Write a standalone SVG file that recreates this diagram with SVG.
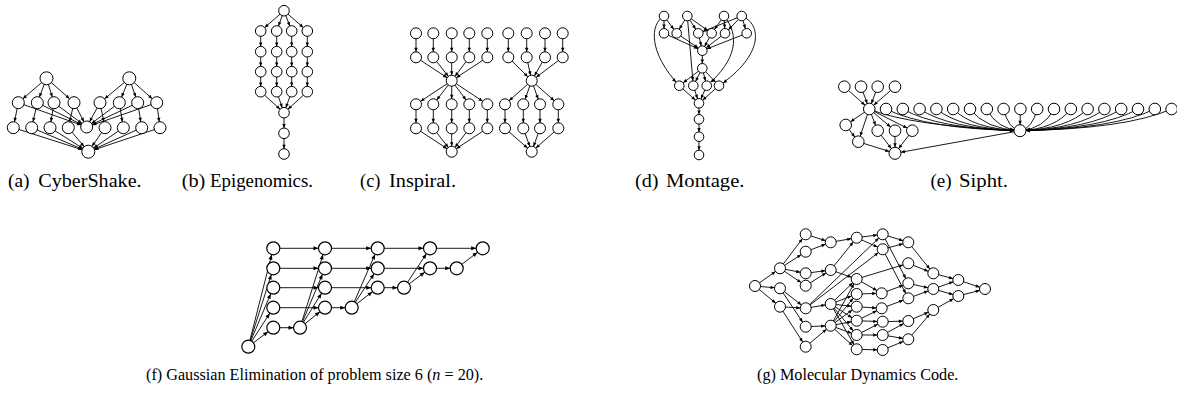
<svg xmlns="http://www.w3.org/2000/svg" width="1177" height="397" viewBox="0 0 1177 397">
<style>
.e line,.e path{stroke:#000;stroke-width:0.9;fill:none}
.nodes circle{fill:#fff;stroke:#000;stroke-width:1}
.ge circle{stroke-width:1.2}
.cap{font-family:"Liberation Serif",serif;font-size:18px;fill:#000}
.cap2{font-family:"Liberation Serif",serif;font-size:16.2px;fill:#000}
</style>
<defs>
<marker id="m48" markerUnits="userSpaceOnUse" markerWidth="5" markerHeight="4" refX="8.8" refY="1.7" orient="auto" overflow="visible"><path d="M0,0 L4,1.7 L0,3.4 z" fill="#000"/></marker>
<marker id="m52" markerUnits="userSpaceOnUse" markerWidth="5" markerHeight="4" refX="9.3" refY="1.7" orient="auto" overflow="visible"><path d="M0,0 L4,1.7 L0,3.4 z" fill="#000"/></marker>
<marker id="m55" markerUnits="userSpaceOnUse" markerWidth="5" markerHeight="4" refX="9.5" refY="1.7" orient="auto" overflow="visible"><path d="M0,0 L4,1.7 L0,3.4 z" fill="#000"/></marker>
<marker id="m58" markerUnits="userSpaceOnUse" markerWidth="5" markerHeight="4" refX="9.8" refY="1.7" orient="auto" overflow="visible"><path d="M0,0 L4,1.7 L0,3.4 z" fill="#000"/></marker>
<marker id="m6" markerUnits="userSpaceOnUse" markerWidth="5" markerHeight="4" refX="10" refY="1.7" orient="auto" overflow="visible"><path d="M0,0 L4,1.7 L0,3.4 z" fill="#000"/></marker>
<marker id="m65" markerUnits="userSpaceOnUse" markerWidth="5" markerHeight="4" refX="10.5" refY="1.7" orient="auto" overflow="visible"><path d="M0,0 L4,1.7 L0,3.4 z" fill="#000"/></marker>
<marker id="mg" markerUnits="userSpaceOnUse" markerWidth="6" markerHeight="4" refX="11.5" refY="2" orient="auto" overflow="visible"><path d="M0,0 L5,2 L0,4 z" fill="#000"/></marker>
</defs>
<rect width="1177" height="397" fill="#fff"/>

<g id="connectors" class="e">
<!-- (a) CyberShake -->
<g marker-end="url(#m6)">
<line x1="46.5" y1="78.3" x2="18.3" y2="102.7"/><line x1="46.5" y1="78.3" x2="37.3" y2="102.7"/><line x1="46.5" y1="78.3" x2="54" y2="102.7"/><line x1="46.5" y1="78.3" x2="74" y2="102.7"/>
<line x1="129.3" y1="78.3" x2="100" y2="102.7"/><line x1="129.3" y1="78.3" x2="119.3" y2="102.7"/><line x1="129.3" y1="78.3" x2="137.7" y2="102.7"/><line x1="129.3" y1="78.3" x2="156.7" y2="102.7"/>
<line x1="18.3" y1="102.7" x2="13.3" y2="127.7"/><line x1="37.3" y1="102.7" x2="31.7" y2="127.7"/><line x1="54" y1="102.7" x2="50" y2="127.7"/><line x1="74" y1="102.7" x2="68.3" y2="127.7"/>
<line x1="100" y1="102.7" x2="105" y2="127.7"/><line x1="119.3" y1="102.7" x2="123.3" y2="127.7"/><line x1="137.7" y1="102.7" x2="141.7" y2="127.7"/><line x1="156.7" y1="102.7" x2="160" y2="127.7"/>
<line x1="18.3" y1="102.7" x2="86.7" y2="127"/><line x1="37.3" y1="102.7" x2="86.7" y2="127"/><line x1="54" y1="102.7" x2="86.7" y2="127"/><line x1="74" y1="102.7" x2="86.7" y2="127"/>
<line x1="100" y1="102.7" x2="86.7" y2="127"/><line x1="119.3" y1="102.7" x2="86.7" y2="127"/><line x1="137.7" y1="102.7" x2="86.7" y2="127"/><line x1="156.7" y1="102.7" x2="86.7" y2="127"/>
</g>
<g marker-end="url(#m65)">
<line x1="13.3" y1="127.7" x2="88.3" y2="151.7"/><line x1="31.7" y1="127.7" x2="88.3" y2="151.7"/><line x1="50" y1="127.7" x2="88.3" y2="151.7"/><line x1="68.3" y1="127.7" x2="88.3" y2="151.7"/>
<line x1="105" y1="127.7" x2="88.3" y2="151.7"/><line x1="123.3" y1="127.7" x2="88.3" y2="151.7"/><line x1="141.7" y1="127.7" x2="88.3" y2="151.7"/><line x1="160" y1="127.7" x2="88.3" y2="151.7"/>
</g>
<!-- (b) Epigenomics -->
<g marker-end="url(#m52)">
<line x1="284" y1="10.7" x2="260.7" y2="31"/><line x1="284" y1="10.7" x2="276.7" y2="31"/><line x1="284" y1="10.7" x2="291.7" y2="31"/><line x1="284" y1="10.7" x2="307.3" y2="31"/>
<line x1="260.7" y1="31" x2="260.7" y2="51.7"/><line x1="260.7" y1="51.7" x2="260.7" y2="71.7"/><line x1="260.7" y1="71.7" x2="260.7" y2="91.7"/>
<line x1="276.7" y1="31" x2="276.7" y2="51.7"/><line x1="276.7" y1="51.7" x2="276.7" y2="71.7"/><line x1="276.7" y1="71.7" x2="276.7" y2="91.7"/>
<line x1="291.7" y1="31" x2="291.7" y2="51.7"/><line x1="291.7" y1="51.7" x2="291.7" y2="71.7"/><line x1="291.7" y1="71.7" x2="291.7" y2="91.7"/>
<line x1="307.3" y1="31" x2="307.3" y2="51.7"/><line x1="307.3" y1="51.7" x2="307.3" y2="71.7"/><line x1="307.3" y1="71.7" x2="307.3" y2="91.7"/>
<line x1="260.7" y1="91.7" x2="284" y2="112.7"/><line x1="276.7" y1="91.7" x2="284" y2="112.7"/><line x1="291.7" y1="91.7" x2="284" y2="112.7"/><line x1="307.3" y1="91.7" x2="284" y2="112.7"/>
<line x1="284" y1="112.7" x2="284" y2="133.3"/><line x1="284" y1="133.3" x2="284" y2="154"/>
</g>
<!-- (c) Inspiral -->
<g marker-end="url(#m55)">
<line x1="416" y1="33.3" x2="416" y2="57.3"/><line x1="433.3" y1="33.3" x2="433.3" y2="57.3"/><line x1="451.7" y1="33.3" x2="451.7" y2="57.3"/><line x1="469.3" y1="33.3" x2="469.3" y2="57.3"/><line x1="487.3" y1="33.3" x2="487.3" y2="57.3"/>
<line x1="508.3" y1="33.3" x2="508.3" y2="57.3"/><line x1="526.7" y1="33.3" x2="526.7" y2="57.3"/><line x1="545" y1="33.3" x2="545" y2="57.3"/><line x1="562.7" y1="33.3" x2="562.7" y2="57.3"/>
<line x1="416" y1="57.3" x2="451.7" y2="80.7"/><line x1="433.3" y1="57.3" x2="451.7" y2="80.7"/><line x1="451.7" y1="57.3" x2="451.7" y2="80.7"/><line x1="469.3" y1="57.3" x2="451.7" y2="80.7"/><line x1="487.3" y1="57.3" x2="451.7" y2="80.7"/>
<line x1="508.3" y1="57.3" x2="531.7" y2="80.7"/><line x1="526.7" y1="57.3" x2="531.7" y2="80.7"/><line x1="545" y1="57.3" x2="531.7" y2="80.7"/><line x1="562.7" y1="57.3" x2="531.7" y2="80.7"/>
<line x1="451.7" y1="80.7" x2="416" y2="104.3"/><line x1="451.7" y1="80.7" x2="433.3" y2="104.3"/><line x1="451.7" y1="80.7" x2="451.7" y2="104.3"/><line x1="451.7" y1="80.7" x2="469.3" y2="104.3"/><line x1="451.7" y1="80.7" x2="487.3" y2="104.3"/>
<line x1="531.7" y1="80.7" x2="505" y2="104.3"/><line x1="531.7" y1="80.7" x2="523.3" y2="104.3"/><line x1="531.7" y1="80.7" x2="540" y2="104.3"/><line x1="531.7" y1="80.7" x2="558.3" y2="104.3"/>
<line x1="416" y1="104.3" x2="416" y2="128.3"/><line x1="433.3" y1="104.3" x2="433.3" y2="128.3"/><line x1="451.7" y1="104.3" x2="451.7" y2="128.3"/><line x1="469.3" y1="104.3" x2="469.3" y2="128.3"/><line x1="487.3" y1="104.3" x2="487.3" y2="128.3"/>
<line x1="505" y1="104.3" x2="505" y2="128.3"/><line x1="523.3" y1="104.3" x2="523.3" y2="128.3"/><line x1="540" y1="104.3" x2="540" y2="128.3"/><line x1="558.3" y1="104.3" x2="558.3" y2="128.3"/>
<line x1="416" y1="128.3" x2="451.7" y2="151.7"/><line x1="433.3" y1="128.3" x2="451.7" y2="151.7"/><line x1="451.7" y1="128.3" x2="451.7" y2="151.7"/><line x1="469.3" y1="128.3" x2="451.7" y2="151.7"/><line x1="487.3" y1="128.3" x2="451.7" y2="151.7"/>
<line x1="505" y1="128.3" x2="531.7" y2="151.7"/><line x1="523.3" y1="128.3" x2="531.7" y2="151.7"/><line x1="540" y1="128.3" x2="531.7" y2="151.7"/><line x1="558.3" y1="128.3" x2="531.7" y2="151.7"/>
</g>
<!-- (d) Montage -->
<g marker-end="url(#m48)">
<line x1="664" y1="16" x2="664" y2="33.3"/><line x1="664" y1="16" x2="676.7" y2="33.3"/>
<line x1="687.3" y1="16" x2="676.7" y2="33.3"/><line x1="687.3" y1="16" x2="698.3" y2="33.3"/><line x1="687.3" y1="16" x2="711.7" y2="33.3"/>
<line x1="724" y1="16" x2="711.7" y2="33.3"/><line x1="724" y1="16" x2="725" y2="33.3"/>
<line x1="741.7" y1="16" x2="698.3" y2="33.3"/><line x1="741.7" y1="16" x2="725" y2="33.3"/><line x1="741.7" y1="16" x2="746.7" y2="33.3"/>
<line x1="664" y1="33.3" x2="702.3" y2="50.7"/><line x1="676.7" y1="33.3" x2="702.3" y2="50.7"/><line x1="698.3" y1="33.3" x2="702.3" y2="50.7"/><line x1="711.7" y1="33.3" x2="702.3" y2="50.7"/><line x1="725" y1="33.3" x2="702.3" y2="50.7"/><line x1="746.7" y1="33.3" x2="702.3" y2="50.7"/>
<line x1="702.3" y1="50.7" x2="702.3" y2="68.3"/>
<line x1="702.3" y1="68.3" x2="679.3" y2="85.7"/><line x1="702.3" y1="68.3" x2="693.3" y2="85.7"/><line x1="702.3" y1="68.3" x2="706.7" y2="85.7"/><line x1="702.3" y1="68.3" x2="719" y2="85.7"/>
<path d="M664,16 C650,24 648,52 679.3,85.7"/>
<line x1="687.3" y1="16" x2="693.3" y2="85.7"/>
<path d="M724,16 C740,35 737,60 706.7,85.7"/>
<path d="M741.7,16 C762,24 764,55 719,85.7"/>
<line x1="679.3" y1="85.7" x2="699" y2="103.3"/><line x1="693.3" y1="85.7" x2="699" y2="103.3"/><line x1="706.7" y1="85.7" x2="699" y2="103.3"/><line x1="719" y1="85.7" x2="699" y2="103.3"/>
<line x1="699" y1="103.3" x2="699" y2="119.3"/><line x1="699" y1="119.3" x2="699" y2="136.7"/><line x1="699" y1="136.7" x2="699" y2="155"/>
</g>
<!-- (e) Sipht -->
<g marker-end="url(#m58)">
<line x1="844.3" y1="86.7" x2="869.3" y2="109"/><line x1="861" y1="86.7" x2="869.3" y2="109"/><line x1="877.7" y1="86.7" x2="869.3" y2="109"/><line x1="895" y1="86.7" x2="869.3" y2="109"/>
<line x1="869.3" y1="109" x2="845.7" y2="125"/><line x1="869.3" y1="109" x2="858.3" y2="141.7"/><line x1="869.3" y1="109" x2="877.7" y2="130.7"/><line x1="869.3" y1="109" x2="895" y2="130.7"/><line x1="869.3" y1="109" x2="912.3" y2="130.7"/>
<line x1="845.7" y1="125" x2="858.3" y2="141.7"/>
</g>
<g marker-end="url(#m6)">
<line x1="858.3" y1="141.7" x2="895" y2="153.3"/><line x1="877.7" y1="130.7" x2="895" y2="153.3"/><line x1="895" y1="130.7" x2="895" y2="153.3"/><line x1="912.3" y1="130.7" x2="895" y2="153.3"/>
<line x1="1020" y1="130.7" x2="895" y2="153.3"/>
<path d="M869.3,109 Q910,126 1020,130.7"/>
<path d="M886,109 Q926.2,129 1020,130.7"/>
<path d="M902.8,109 Q938,129 1020,130.7"/>
<path d="M919.6,109 Q949.7,129 1020,130.7"/>
<path d="M936.4,109 Q961.5,129 1020,130.7"/>
<path d="M953.2,109 Q973.2,129 1020,130.7"/>
<path d="M970,109 Q985,129 1020,130.7"/>
<path d="M986.8,109 Q996.8,129 1020,130.7"/>
<path d="M1003.6,109 Q1008.5,129 1020,130.7"/>
<path d="M1020.4,109 L1020,130.7"/>
<path d="M1037.2,109 Q1032,129 1020,130.7"/>
<path d="M1054,109 Q1043.8,129 1020,130.7"/>
<path d="M1070.8,109 Q1055.6,129 1020,130.7"/>
<path d="M1087.6,109 Q1067.3,129 1020,130.7"/>
<path d="M1104.4,109 Q1079.1,129 1020,130.7"/>
<path d="M1121.2,109 Q1090.8,129 1020,130.7"/>
<path d="M1138,109 Q1102.6,129 1020,130.7"/>
<path d="M1154.8,109 Q1114.4,129 1020,130.7"/>
<path d="M1171.6,109 Q1126.1,129 1020,130.7"/>
</g>
<!-- (f) Gaussian Elimination -->
<g marker-end="url(#mg)">
<line x1="248.3" y1="346.7" x2="273.3" y2="248.3"/><line x1="248.3" y1="346.7" x2="273.3" y2="268.3"/><line x1="248.3" y1="346.7" x2="273.3" y2="287.7"/><line x1="248.3" y1="346.7" x2="273.3" y2="307.7"/><line x1="248.3" y1="346.7" x2="273.3" y2="327.7"/>
<line x1="273.3" y1="327.7" x2="300" y2="327.7"/>
<line x1="300" y1="327.7" x2="325" y2="248.3"/><line x1="300" y1="327.7" x2="325" y2="268.3"/><line x1="300" y1="327.7" x2="325" y2="287.7"/><line x1="300" y1="327.7" x2="325" y2="307.7"/>
<line x1="273.3" y1="248.3" x2="325" y2="248.3"/><line x1="273.3" y1="268.3" x2="325" y2="268.3"/><line x1="273.3" y1="287.7" x2="325" y2="287.7"/><line x1="273.3" y1="307.7" x2="325" y2="307.7"/>
<line x1="325" y1="307.7" x2="351.7" y2="307.7"/>
<line x1="351.7" y1="307.7" x2="377.7" y2="248.3"/><line x1="351.7" y1="307.7" x2="377.7" y2="268.3"/><line x1="351.7" y1="307.7" x2="377.7" y2="287.7"/>
<line x1="325" y1="248.3" x2="377.7" y2="248.3"/><line x1="325" y1="268.3" x2="377.7" y2="268.3"/><line x1="325" y1="287.7" x2="377.7" y2="287.7"/>
<line x1="377.7" y1="287.7" x2="404" y2="287.7"/>
<line x1="404" y1="287.7" x2="430" y2="248.3"/><line x1="404" y1="287.7" x2="430" y2="268.3"/>
<line x1="377.7" y1="248.3" x2="430" y2="248.3"/><line x1="377.7" y1="268.3" x2="430" y2="268.3"/>
<line x1="430" y1="268.3" x2="456.7" y2="268.3"/>
<line x1="456.7" y1="268.3" x2="482.7" y2="248.3"/><line x1="430" y1="248.3" x2="482.7" y2="248.3"/>
</g>
<!-- (g) Molecular Dynamics -->
<g marker-end="url(#m55)">
<line x1="755" y1="286" x2="780" y2="268.3"/><line x1="755" y1="286" x2="780" y2="288.3"/><line x1="755" y1="286" x2="780" y2="306.7"/>
<line x1="780" y1="268.3" x2="805.7" y2="234.3"/><line x1="780" y1="268.3" x2="805.7" y2="251.7"/><line x1="780" y1="268.3" x2="805.7" y2="273.3"/><line x1="780" y1="268.3" x2="805.7" y2="285.7"/>
<line x1="780" y1="288.3" x2="805.7" y2="308.3"/><line x1="780" y1="288.3" x2="805.7" y2="326.7"/>
<line x1="780" y1="306.7" x2="805.7" y2="308.3"/><line x1="780" y1="306.7" x2="805.7" y2="346.7"/>
<line x1="805.7" y1="234.3" x2="830.7" y2="242.3"/><line x1="805.7" y1="251.7" x2="830.7" y2="242.3"/>
<line x1="805.7" y1="273.3" x2="830.7" y2="270"/><line x1="805.7" y1="285.7" x2="830.7" y2="270"/>
<line x1="805.7" y1="308.3" x2="830.7" y2="304"/><line x1="805.7" y1="326.7" x2="830.7" y2="325.7"/><line x1="805.7" y1="346.7" x2="830.7" y2="325.7"/>
<line x1="805.7" y1="308.3" x2="882.7" y2="234.3"/><line x1="805.7" y1="308.3" x2="882.7" y2="249.3"/>
<line x1="830.7" y1="242.3" x2="856.7" y2="237.7"/><line x1="830.7" y1="270" x2="856.7" y2="237.7"/><line x1="830.7" y1="270" x2="856.7" y2="279"/>
<line x1="830.7" y1="304" x2="856.7" y2="279"/><line x1="830.7" y1="304" x2="856.7" y2="294"/><line x1="830.7" y1="304" x2="856.7" y2="306.7"/><line x1="830.7" y1="304" x2="856.7" y2="320.7"/><line x1="830.7" y1="304" x2="856.7" y2="335"/><line x1="830.7" y1="304" x2="856.7" y2="349.3"/>
<line x1="830.7" y1="325.7" x2="856.7" y2="279"/><line x1="830.7" y1="325.7" x2="856.7" y2="294"/><line x1="830.7" y1="325.7" x2="856.7" y2="306.7"/><line x1="830.7" y1="325.7" x2="856.7" y2="320.7"/><line x1="830.7" y1="325.7" x2="856.7" y2="335"/><line x1="830.7" y1="325.7" x2="856.7" y2="349.3"/>
<line x1="856.7" y1="237.7" x2="882.7" y2="234.3"/><line x1="856.7" y1="237.7" x2="882.7" y2="249.3"/>
<line x1="856.7" y1="279" x2="908.3" y2="263.3"/>
<line x1="856.7" y1="279" x2="881.7" y2="293.3"/><line x1="856.7" y1="294" x2="881.7" y2="293.3"/><line x1="856.7" y1="306.7" x2="881.7" y2="308.3"/><line x1="856.7" y1="320.7" x2="881.7" y2="308.3"/>
<line x1="856.7" y1="320.7" x2="882.7" y2="321.7"/><line x1="856.7" y1="335" x2="882.7" y2="321.7"/><line x1="856.7" y1="335" x2="882.7" y2="335"/><line x1="856.7" y1="349.3" x2="882.7" y2="350"/>
<line x1="882.7" y1="234.3" x2="908.3" y2="242.3"/><line x1="882.7" y1="249.3" x2="908.3" y2="242.3"/><line x1="882.7" y1="234.3" x2="908.3" y2="283.3"/><line x1="882.7" y1="249.3" x2="908.3" y2="298.3"/>
<line x1="881.7" y1="293.3" x2="908.3" y2="283.3"/><line x1="881.7" y1="308.3" x2="908.3" y2="298.3"/>
<line x1="882.7" y1="321.7" x2="908.3" y2="321"/><line x1="882.7" y1="335" x2="908.3" y2="321"/><line x1="882.7" y1="335" x2="908.3" y2="339.3"/><line x1="882.7" y1="350" x2="908.3" y2="339.3"/>
<line x1="908.3" y1="242.3" x2="933.3" y2="273.3"/><line x1="908.3" y1="263.3" x2="933.3" y2="273.3"/><line x1="908.3" y1="283.3" x2="933.3" y2="289"/><line x1="908.3" y1="298.3" x2="933.3" y2="289"/><line x1="908.3" y1="321" x2="933.3" y2="310"/><line x1="908.3" y1="339.3" x2="933.3" y2="310"/>
<line x1="933.3" y1="273.3" x2="958.3" y2="280"/><line x1="933.3" y1="289" x2="958.3" y2="280"/><line x1="933.3" y1="289" x2="958.3" y2="296"/><line x1="933.3" y1="310" x2="958.3" y2="296"/>
<line x1="958.3" y1="280" x2="985" y2="289"/><line x1="958.3" y1="296" x2="985" y2="289"/>
</g>
</g>

<g class="nodes">
<!-- (a) -->
<g id="a-t1"><circle cx="46.5" cy="78.3" r="6.5"/></g>
<g id="a-t2"><circle cx="129.3" cy="78.3" r="6.5"/></g>
<g id="a-s1"><circle cx="18.3" cy="102.7" r="6"/></g>
<g id="a-s2"><circle cx="37.3" cy="102.7" r="6"/></g>
<g id="a-s3"><circle cx="54" cy="102.7" r="6"/></g>
<g id="a-s4"><circle cx="74" cy="102.7" r="6"/></g>
<g id="a-s5"><circle cx="100" cy="102.7" r="6"/></g>
<g id="a-s6"><circle cx="119.3" cy="102.7" r="6"/></g>
<g id="a-s7"><circle cx="137.7" cy="102.7" r="6"/></g>
<g id="a-s8"><circle cx="156.7" cy="102.7" r="6"/></g>
<g id="a-p1"><circle cx="13.3" cy="127.7" r="6"/></g>
<g id="a-p2"><circle cx="31.7" cy="127.7" r="6"/></g>
<g id="a-p3"><circle cx="50" cy="127.7" r="6"/></g>
<g id="a-p4"><circle cx="68.3" cy="127.7" r="6"/></g>
<g id="a-zs"><circle cx="86.7" cy="127" r="6"/></g>
<g id="a-p5"><circle cx="105" cy="127.7" r="6"/></g>
<g id="a-p6"><circle cx="123.3" cy="127.7" r="6"/></g>
<g id="a-p7"><circle cx="141.7" cy="127.7" r="6"/></g>
<g id="a-p8"><circle cx="160" cy="127.7" r="6"/></g>
<g id="a-zp"><circle cx="88.3" cy="151.7" r="6.5"/></g>
<!-- (b) -->
<g id="b-top"><circle cx="284" cy="10.7" r="5.3"/></g>
<g id="b-1a"><circle cx="260.7" cy="31" r="5.3"/></g>
<g id="b-2a"><circle cx="276.7" cy="31" r="5.3"/></g>
<g id="b-3a"><circle cx="291.7" cy="31" r="5.3"/></g>
<g id="b-4a"><circle cx="307.3" cy="31" r="5.3"/></g>
<g id="b-1b"><circle cx="260.7" cy="51.7" r="5.3"/></g>
<g id="b-2b"><circle cx="276.7" cy="51.7" r="5.3"/></g>
<g id="b-3b"><circle cx="291.7" cy="51.7" r="5.3"/></g>
<g id="b-4b"><circle cx="307.3" cy="51.7" r="5.3"/></g>
<g id="b-1c"><circle cx="260.7" cy="71.7" r="5.3"/></g>
<g id="b-2c"><circle cx="276.7" cy="71.7" r="5.3"/></g>
<g id="b-3c"><circle cx="291.7" cy="71.7" r="5.3"/></g>
<g id="b-4c"><circle cx="307.3" cy="71.7" r="5.3"/></g>
<g id="b-1d"><circle cx="260.7" cy="91.7" r="5.3"/></g>
<g id="b-2d"><circle cx="276.7" cy="91.7" r="5.3"/></g>
<g id="b-3d"><circle cx="291.7" cy="91.7" r="5.3"/></g>
<g id="b-4d"><circle cx="307.3" cy="91.7" r="5.3"/></g>
<g id="b-m1"><circle cx="284" cy="112.7" r="5.3"/></g>
<g id="b-m2"><circle cx="284" cy="133.3" r="5.3"/></g>
<g id="b-m3"><circle cx="284" cy="154" r="5.3"/></g>
<!-- (c) -->
<g id="c-t1"><circle cx="416" cy="33.3" r="5.5"/></g>
<g id="c-t2"><circle cx="433.3" cy="33.3" r="5.5"/></g>
<g id="c-t3"><circle cx="451.7" cy="33.3" r="5.5"/></g>
<g id="c-t4"><circle cx="469.3" cy="33.3" r="5.5"/></g>
<g id="c-t5"><circle cx="487.3" cy="33.3" r="5.5"/></g>
<g id="c-t6"><circle cx="508.3" cy="33.3" r="5.5"/></g>
<g id="c-t7"><circle cx="526.7" cy="33.3" r="5.5"/></g>
<g id="c-t8"><circle cx="545" cy="33.3" r="5.5"/></g>
<g id="c-t9"><circle cx="562.7" cy="33.3" r="5.5"/></g>
<g id="c-a1"><circle cx="416" cy="57.3" r="5.5"/></g>
<g id="c-a2"><circle cx="433.3" cy="57.3" r="5.5"/></g>
<g id="c-a3"><circle cx="451.7" cy="57.3" r="5.5"/></g>
<g id="c-a4"><circle cx="469.3" cy="57.3" r="5.5"/></g>
<g id="c-a5"><circle cx="487.3" cy="57.3" r="5.5"/></g>
<g id="c-a6"><circle cx="508.3" cy="57.3" r="5.5"/></g>
<g id="c-a7"><circle cx="526.7" cy="57.3" r="5.5"/></g>
<g id="c-a8"><circle cx="545" cy="57.3" r="5.5"/></g>
<g id="c-a9"><circle cx="562.7" cy="57.3" r="5.5"/></g>
<g id="c-m1"><circle cx="451.7" cy="80.7" r="5.5"/></g>
<g id="c-m2"><circle cx="531.7" cy="80.7" r="5.5"/></g>
<g id="c-b1"><circle cx="416" cy="104.3" r="5.5"/></g>
<g id="c-b2"><circle cx="433.3" cy="104.3" r="5.5"/></g>
<g id="c-b3"><circle cx="451.7" cy="104.3" r="5.5"/></g>
<g id="c-b4"><circle cx="469.3" cy="104.3" r="5.5"/></g>
<g id="c-b5"><circle cx="487.3" cy="104.3" r="5.5"/></g>
<g id="c-b6"><circle cx="505" cy="104.3" r="5.5"/></g>
<g id="c-b7"><circle cx="523.3" cy="104.3" r="5.5"/></g>
<g id="c-b8"><circle cx="540" cy="104.3" r="5.5"/></g>
<g id="c-b9"><circle cx="558.3" cy="104.3" r="5.5"/></g>
<g id="c-c1"><circle cx="416" cy="128.3" r="5.5"/></g>
<g id="c-c2"><circle cx="433.3" cy="128.3" r="5.5"/></g>
<g id="c-c3"><circle cx="451.7" cy="128.3" r="5.5"/></g>
<g id="c-c4"><circle cx="469.3" cy="128.3" r="5.5"/></g>
<g id="c-c5"><circle cx="487.3" cy="128.3" r="5.5"/></g>
<g id="c-c6"><circle cx="505" cy="128.3" r="5.5"/></g>
<g id="c-c7"><circle cx="523.3" cy="128.3" r="5.5"/></g>
<g id="c-c8"><circle cx="540" cy="128.3" r="5.5"/></g>
<g id="c-c9"><circle cx="558.3" cy="128.3" r="5.5"/></g>
<g id="c-z1"><circle cx="451.7" cy="151.7" r="5.5"/></g>
<g id="c-z2"><circle cx="531.7" cy="151.7" r="5.5"/></g>
<!-- (d) -->
<g id="d-t1"><circle cx="664" cy="16" r="4.8"/></g>
<g id="d-t2"><circle cx="687.3" cy="16" r="4.8"/></g>
<g id="d-t3"><circle cx="724" cy="16" r="4.8"/></g>
<g id="d-t4"><circle cx="741.7" cy="16" r="4.8"/></g>
<g id="d-f1"><circle cx="664" cy="33.3" r="4.8"/></g>
<g id="d-f2"><circle cx="676.7" cy="33.3" r="4.8"/></g>
<g id="d-f3"><circle cx="698.3" cy="33.3" r="4.8"/></g>
<g id="d-f4"><circle cx="711.7" cy="33.3" r="4.8"/></g>
<g id="d-f5"><circle cx="725" cy="33.3" r="4.8"/></g>
<g id="d-f6"><circle cx="746.7" cy="33.3" r="4.8"/></g>
<g id="d-cf"><circle cx="702.3" cy="50.7" r="4.8"/></g>
<g id="d-bg"><circle cx="702.3" cy="68.3" r="4.8"/></g>
<g id="d-b1"><circle cx="679.3" cy="85.7" r="4.8"/></g>
<g id="d-b2"><circle cx="693.3" cy="85.7" r="4.8"/></g>
<g id="d-b3"><circle cx="706.7" cy="85.7" r="4.8"/></g>
<g id="d-b4"><circle cx="719" cy="85.7" r="4.8"/></g>
<g id="d-it"><circle cx="699" cy="103.3" r="4.8"/></g>
<g id="d-ad"><circle cx="699" cy="119.3" r="4.8"/></g>
<g id="d-sh"><circle cx="699" cy="136.7" r="4.8"/></g>
<g id="d-jp"><circle cx="699" cy="155" r="4.8"/></g>
<!-- (e) -->
<g id="e-t1"><circle cx="844.3" cy="86.7" r="5.8"/></g>
<g id="e-t2"><circle cx="861" cy="86.7" r="5.8"/></g>
<g id="e-t3"><circle cx="877.7" cy="86.7" r="5.8"/></g>
<g id="e-t4"><circle cx="895" cy="86.7" r="5.8"/></g>
<g id="e-hub"><circle cx="869.3" cy="109" r="5.8"/></g>
<g id="e-r1"><circle cx="886" cy="109" r="5.8"/></g>
<g id="e-r2"><circle cx="902.8" cy="109" r="5.8"/></g>
<g id="e-r3"><circle cx="919.6" cy="109" r="5.8"/></g>
<g id="e-r4"><circle cx="936.4" cy="109" r="5.8"/></g>
<g id="e-r5"><circle cx="953.2" cy="109" r="5.8"/></g>
<g id="e-r6"><circle cx="970" cy="109" r="5.8"/></g>
<g id="e-r7"><circle cx="986.8" cy="109" r="5.8"/></g>
<g id="e-r8"><circle cx="1003.6" cy="109" r="5.8"/></g>
<g id="e-r9"><circle cx="1020.4" cy="109" r="5.8"/></g>
<g id="e-r10"><circle cx="1037.2" cy="109" r="5.8"/></g>
<g id="e-r11"><circle cx="1054" cy="109" r="5.8"/></g>
<g id="e-r12"><circle cx="1070.8" cy="109" r="5.8"/></g>
<g id="e-r13"><circle cx="1087.6" cy="109" r="5.8"/></g>
<g id="e-r14"><circle cx="1104.4" cy="109" r="5.8"/></g>
<g id="e-r15"><circle cx="1121.2" cy="109" r="5.8"/></g>
<g id="e-r16"><circle cx="1138" cy="109" r="5.8"/></g>
<g id="e-r17"><circle cx="1154.8" cy="109" r="5.8"/></g>
<g id="e-r18"><circle cx="1171.6" cy="109" r="5.8"/></g>
<g id="e-mg"><circle cx="1020" cy="130.7" r="6"/></g>
<g id="e-l1"><circle cx="845.7" cy="125" r="5.8"/></g>
<g id="e-l2"><circle cx="858.3" cy="141.7" r="5.8"/></g>
<g id="e-l3"><circle cx="877.7" cy="130.7" r="5.8"/></g>
<g id="e-l4"><circle cx="895" cy="130.7" r="5.8"/></g>
<g id="e-l5"><circle cx="912.3" cy="130.7" r="5.8"/></g>
<g id="e-bt"><circle cx="895" cy="153.3" r="6"/></g>
<!-- (f) -->
<g class="ge">
<g id="f-s"><circle cx="248.3" cy="346.7" r="6.5"/></g>
<g id="f-11"><circle cx="273.3" cy="248.3" r="6.5"/></g>
<g id="f-12"><circle cx="273.3" cy="268.3" r="6.5"/></g>
<g id="f-13"><circle cx="273.3" cy="287.7" r="6.5"/></g>
<g id="f-14"><circle cx="273.3" cy="307.7" r="6.5"/></g>
<g id="f-15"><circle cx="273.3" cy="327.7" r="6.5"/></g>
<g id="f-p1"><circle cx="300" cy="327.7" r="6.5"/></g>
<g id="f-21"><circle cx="325" cy="248.3" r="6.5"/></g>
<g id="f-22"><circle cx="325" cy="268.3" r="6.5"/></g>
<g id="f-23"><circle cx="325" cy="287.7" r="6.5"/></g>
<g id="f-24"><circle cx="325" cy="307.7" r="6.5"/></g>
<g id="f-p2"><circle cx="351.7" cy="307.7" r="6.5"/></g>
<g id="f-31"><circle cx="377.7" cy="248.3" r="6.5"/></g>
<g id="f-32"><circle cx="377.7" cy="268.3" r="6.5"/></g>
<g id="f-33"><circle cx="377.7" cy="287.7" r="6.5"/></g>
<g id="f-p3"><circle cx="404" cy="287.7" r="6.5"/></g>
<g id="f-41"><circle cx="430" cy="248.3" r="6.5"/></g>
<g id="f-42"><circle cx="430" cy="268.3" r="6.5"/></g>
<g id="f-p4"><circle cx="456.7" cy="268.3" r="6.5"/></g>
<g id="f-z"><circle cx="482.7" cy="248.3" r="6.5"/></g>
</g>
<!-- (g) -->
<g id="g-n0"><circle cx="755" cy="286" r="5.5"/></g>
<g id="g-a1"><circle cx="780" cy="268.3" r="5.5"/></g>
<g id="g-a2"><circle cx="780" cy="288.3" r="5.5"/></g>
<g id="g-a3"><circle cx="780" cy="306.7" r="5.5"/></g>
<g id="g-b1"><circle cx="805.7" cy="234.3" r="5.5"/></g>
<g id="g-b2"><circle cx="805.7" cy="251.7" r="5.5"/></g>
<g id="g-b3"><circle cx="805.7" cy="273.3" r="5.5"/></g>
<g id="g-b4"><circle cx="805.7" cy="285.7" r="5.5"/></g>
<g id="g-b5"><circle cx="805.7" cy="308.3" r="5.5"/></g>
<g id="g-b6"><circle cx="805.7" cy="326.7" r="5.5"/></g>
<g id="g-b7"><circle cx="805.7" cy="346.7" r="5.5"/></g>
<g id="g-c1"><circle cx="830.7" cy="242.3" r="5.5"/></g>
<g id="g-c2"><circle cx="830.7" cy="270" r="5.5"/></g>
<g id="g-c3"><circle cx="830.7" cy="304" r="5.5"/></g>
<g id="g-c4"><circle cx="830.7" cy="325.7" r="5.5"/></g>
<g id="g-d1"><circle cx="856.7" cy="237.7" r="5.5"/></g>
<g id="g-d2"><circle cx="856.7" cy="279" r="5.5"/></g>
<g id="g-d3"><circle cx="856.7" cy="294" r="5.5"/></g>
<g id="g-d4"><circle cx="856.7" cy="306.7" r="5.5"/></g>
<g id="g-d5"><circle cx="856.7" cy="320.7" r="5.5"/></g>
<g id="g-d6"><circle cx="856.7" cy="335" r="5.5"/></g>
<g id="g-d7"><circle cx="856.7" cy="349.3" r="5.5"/></g>
<g id="g-e1"><circle cx="882.7" cy="234.3" r="5.5"/></g>
<g id="g-e2"><circle cx="882.7" cy="249.3" r="5.5"/></g>
<g id="g-e3"><circle cx="881.7" cy="293.3" r="5.5"/></g>
<g id="g-e4"><circle cx="881.7" cy="308.3" r="5.5"/></g>
<g id="g-e5"><circle cx="882.7" cy="321.7" r="5.5"/></g>
<g id="g-e6"><circle cx="882.7" cy="335" r="5.5"/></g>
<g id="g-e7"><circle cx="882.7" cy="350" r="5.5"/></g>
<g id="g-f1"><circle cx="908.3" cy="242.3" r="5.5"/></g>
<g id="g-f2"><circle cx="908.3" cy="263.3" r="5.5"/></g>
<g id="g-f3"><circle cx="908.3" cy="283.3" r="5.5"/></g>
<g id="g-f4"><circle cx="908.3" cy="298.3" r="5.5"/></g>
<g id="g-f5"><circle cx="908.3" cy="321" r="5.5"/></g>
<g id="g-f6"><circle cx="908.3" cy="339.3" r="5.5"/></g>
<g id="g-g1"><circle cx="933.3" cy="273.3" r="5.5"/></g>
<g id="g-g2"><circle cx="933.3" cy="289" r="5.5"/></g>
<g id="g-g3"><circle cx="933.3" cy="310" r="5.5"/></g>
<g id="g-h1"><circle cx="958.3" cy="280" r="5.5"/></g>
<g id="g-h2"><circle cx="958.3" cy="296" r="5.5"/></g>
<g id="g-z"><circle cx="985" cy="289" r="5.5"/></g>
</g>

<g id="captions">
<g class="cap">
<text x="8" y="187" textLength="21.6" lengthAdjust="spacingAndGlyphs">(a)</text>
<text x="38.3" y="187" textLength="103.3" lengthAdjust="spacingAndGlyphs">CyberShake.</text>
<text x="181.7" y="187" textLength="23.6" lengthAdjust="spacingAndGlyphs">(b)</text>
<text x="210" y="187" textLength="103" lengthAdjust="spacingAndGlyphs">Epigenomics.</text>
<text x="360" y="187" textLength="20.5" lengthAdjust="spacingAndGlyphs">(c)</text>
<text x="389" y="187" textLength="67" lengthAdjust="spacingAndGlyphs">Inspiral.</text>
<text x="635" y="187" textLength="23.6" lengthAdjust="spacingAndGlyphs">(d)</text>
<text x="666" y="187" textLength="78.5" lengthAdjust="spacingAndGlyphs">Montage.</text>
<text x="930.5" y="187" textLength="21.2" lengthAdjust="spacingAndGlyphs">(e)</text>
<text x="959" y="187" textLength="49" lengthAdjust="spacingAndGlyphs">Sipht.</text>
</g>
<g class="cap2">
<text x="146" y="379.5">(f) Gaussian Elimination of problem size 6 (<tspan font-style="italic">n</tspan> = 20).</text>
<text x="757" y="379.5">(g) Molecular Dynamics Code.</text>
</g>
</g>
</svg>
